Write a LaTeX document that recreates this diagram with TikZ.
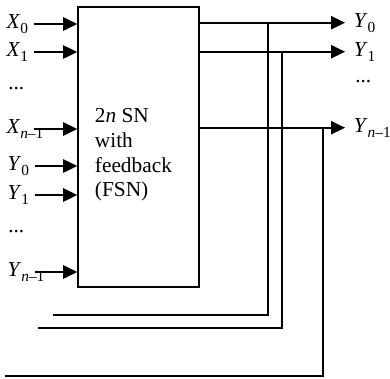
\documentclass[tikz,border=0pt]{standalone}
\usepackage{fontspec}
\setmainfont{Liberation Serif}
\usetikzlibrary{arrows.meta, positioning, calc}

\newcommand{\sig}[2]{\textit{#1}\raisebox{-3.8pt}{\fontsize{11.5}{11.5}\selectfont #2}}

\begin{document}
\begin{tikzpicture}[
    x=0.75pt, y=-0.75pt,
    txt/.style={font=\fontsize{16}{18.5}\selectfont},
    ln/.style={line width=1.2pt},
    arr/.style={ln, -{Triangle[length=10.5pt, width=10pt]}},
    inlbl/.style={txt, anchor=west, text width=19pt, align=left,
                  inner xsep=1pt, text height=0.66em, text depth=0pt},
    outlbl/.style={txt, anchor=west, inner xsep=6.5pt,
                   text height=0.66em, text depth=0pt},
    dots/.style={txt, anchor=base west, inner sep=0pt},
]
\useasboundingbox (0,0) rectangle (390,379);

% -- Network box --
\node[draw, ln, minimum width=90.75pt, minimum height=210pt,
      inner sep=0pt] (fsn) at (138.5,147) {};
\node[txt, anchor=west, align=left, inner sep=2pt] (name)
    at (92,155) {2\textit{n} SN\\with\\feedback\\(FSN)};

% -- Inputs --
\node[inlbl] (x0) at (5,24) {\sig{X}{0}};
\node[inlbl] (x1) at (5,52) {\sig{X}{1}};
\node[dots] (xd) at (8,89) {...};
\node[inlbl] (xn) at (5,129) {\sig{X}{\textit{n}–1}};
\node[inlbl] (y0) at (6,166) {\sig{Y}{0}};
\node[inlbl] (y1) at (6,195) {\sig{Y}{1}};
\node[dots] (yd) at (8,232) {...};
\node[inlbl] (yn) at (6,272) {\sig{Y}{\textit{n}–1}};

\draw[arr] (x0.east) -- (x0.east -| fsn.west);
\draw[arr] (x1.east) -- (x1.east -| fsn.west);
\draw[arr] (xn.east) -- (xn.east -| fsn.west);
\draw[arr] (y0.east) -- (y0.east -| fsn.west);
\draw[arr] (y1.east) -- (y1.east -| fsn.west);
\draw[arr] (yn.east) -- (yn.east -| fsn.west);

% -- Outputs --
\node[outlbl] (y0o) at (345,22.7) {\sig{Y}{0}};
\node[outlbl] (y1o) at (345,51.7) {\sig{Y}{1}};
\node[dots] (yod) at (355,82) {...};
\node[outlbl] (yno) at (345,127.7) {\sig{Y}{\textit{n}–1}};

\draw[arr] (y0o.west -| fsn.east) -- (y0o.west);
\draw[arr] (y1o.west -| fsn.east) -- (y1o.west);
\draw[arr] (yno.west -| fsn.east) -- (yno.west);

% -- Feedback lines --
\coordinate (fb0) at (53,315);
\coordinate (fb1) at (38,328);
\coordinate (fbn) at (5,376);
\coordinate (c0) at (268,315);
\coordinate (c1) at (282,328);
\coordinate (cn) at (323,376);

\draw[ln] (fb0) -- (c0) -- (c0 |- y0o.west);
\draw[ln] (fb1) -- (c1) -- (c1 |- y1o.west);
\draw[ln] (fbn) -- (cn) -- (cn |- yno.west);

\end{tikzpicture}
\end{document}
